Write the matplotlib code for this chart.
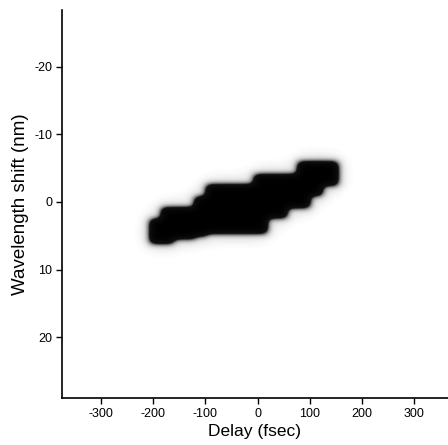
import numpy as np
import matplotlib.pyplot as plt
from matplotlib.colors import LinearSegmentedColormap

# stepped trace: delay bin edges (fsec) and wavelength extent (nm) of each bin
delay_edges = [-207, -184, -163, -121, -98, -6, 17, 56, 77, 100, 123, 154]
wl_top = [2.6, 0.9, 0.9, -0.7, -2.5, -4.0, -4.0, -4.0, -5.9, -5.9, -5.9]
wl_bottom = [6.1, 6.1, 5.4, 5.0, 4.6, 4.6, 2.3, 0.8, 0.8, -1.0, -2.5]

xticks = [-300, -200, -100, 0, 100, 200, 300]
yticks = [-20, -10, 0, 10, 20]

plt.rcParams['font.family'] = ['Liberation Sans', 'DejaVu Sans']
plt.rcParams['axes.unicode_minus'] = False

fig = plt.figure(figsize=(4.48, 4.45), dpi=100)
ax = fig.add_axes([0.138, 0.1056, 0.862, 0.872])

# fine grid for the intensity image
gx = np.arange(-270, 220, 2.0)
gy = np.arange(-11, 13, 0.1)
X, Y = np.meshgrid(gx, gy)
img = np.zeros_like(X)
for i in range(len(wl_top)):
    sel = (X >= delay_edges[i]) & (X < delay_edges[i + 1]) & (Y >= wl_top[i]) & (Y <= wl_bottom[i])
    img[sel] = 1.0

# soften the edges (scanned look)
def kern(sig):
    n = int(3 * sig) + 1
    t = np.arange(-n, n + 1)
    k = np.exp(-0.5 * (t / sig) ** 2)
    return k / k.sum()

def blur(a, sx, sy):
    a = np.apply_along_axis(lambda r: np.convolve(r, kern(sx), mode='same'), 1, a)
    return np.apply_along_axis(lambda c: np.convolve(c, kern(sy), mode='same'), 0, a)

img = 0.85 * blur(img, 3.5, 4.5) + 0.15 * blur(img, 8.0, 12.0)

cmap = LinearSegmentedColormap.from_list('scan', [(0, 'white'), (0.02, '#f2f2f2'),
                                                  (0.12, '#c8c8c8'), (0.3, '#707070'),
                                                  (0.42, '#101010'), (1, 'black')])
ax.imshow(img, extent=[gx[0], gx[-1], gy[-1], gy[0]], cmap=cmap, vmin=0, vmax=1,
          interpolation='bilinear', aspect='auto')

ax.set_xlim(-375, 365)
ax.set_ylim(29.0, -28.4)
ax.set_xticks(xticks)
ax.set_yticks(yticks)
ax.tick_params(direction='out', length=4.5, width=1, labelsize=9, pad=2.5)
for s in ['top', 'right']:
    ax.spines[s].set_visible(False)
for s in ['left', 'bottom']:
    ax.spines[s].set_linewidth(1.2)

ax.set_xlabel('Delay (fsec)', fontsize=12.5, labelpad=3)
ax.set_ylabel('Wavelength shift (nm)', fontsize=13.5, labelpad=4)

fig.savefig('out.png', dpi=100)
